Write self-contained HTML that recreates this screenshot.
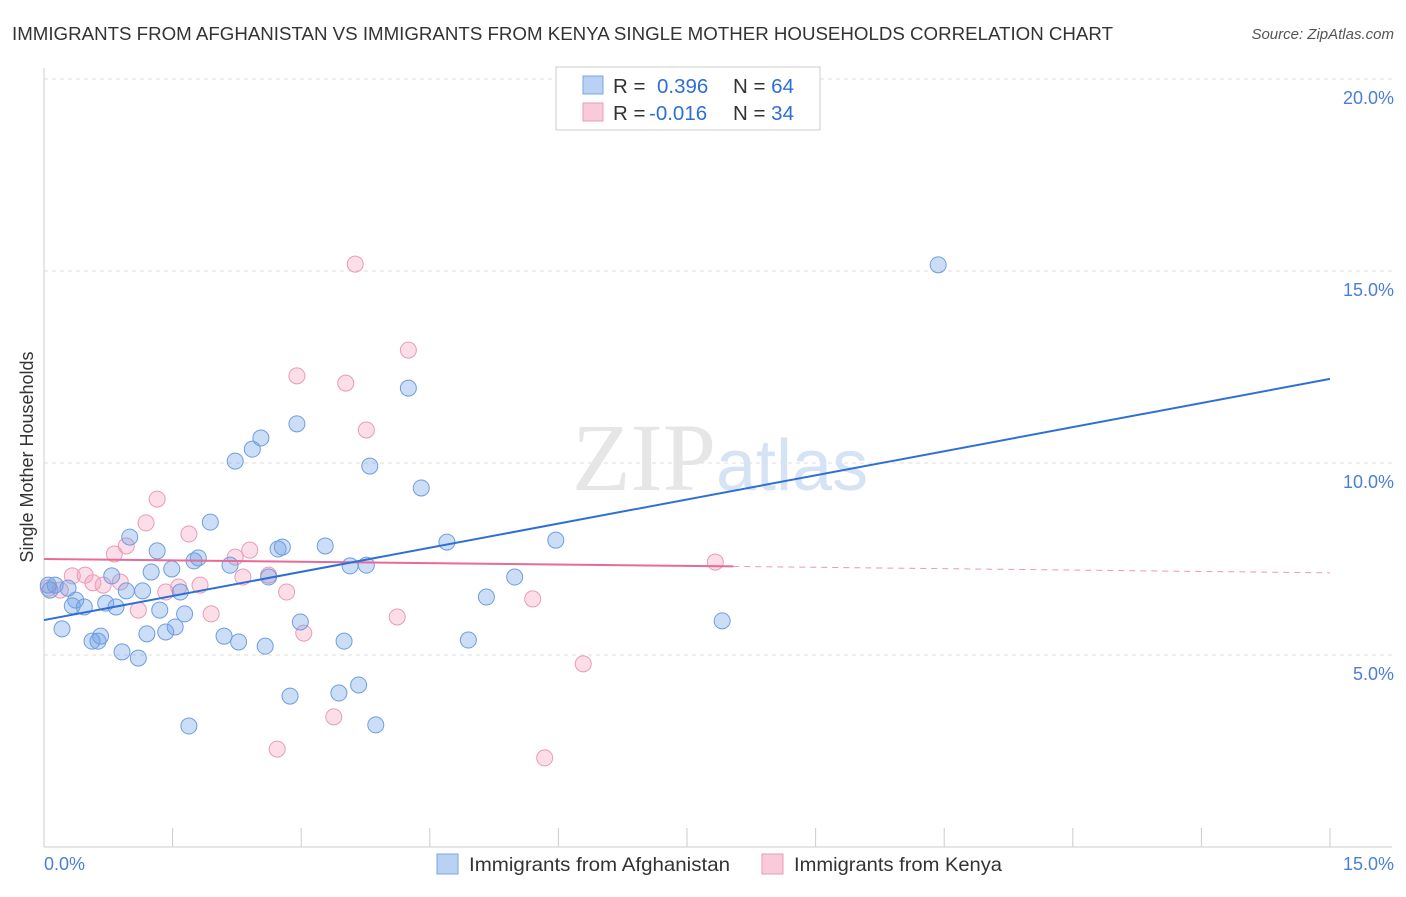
<!DOCTYPE html>
<html><head><meta charset="utf-8"><style>
body{margin:0;background:#fff;font-family:"Liberation Sans",sans-serif}
</style></head><body>
<svg width="1406" height="892" xmlns="http://www.w3.org/2000/svg" font-family="Liberation Sans, sans-serif">
<text x="12" y="40" font-size="18" fill="#333" textLength="1101" lengthAdjust="spacingAndGlyphs">IMMIGRANTS FROM AFGHANISTAN VS IMMIGRANTS FROM KENYA SINGLE MOTHER HOUSEHOLDS CORRELATION CHART</text>
<text x="1394" y="39" font-size="15" fill="#555" font-style="italic" text-anchor="end">Source: ZipAtlas.com</text>
<g id="grid"></g>
<text x="716" y="490" font-size="96" fill="#e6e6e6" text-anchor="end" font-family="Liberation Serif, serif">ZIP</text>
<text x="716" y="490" font-size="72" fill="#d5e3f5">atlas</text>
<line x1="44" y1="68" x2="44" y2="847" stroke="#ccc"/>
<line x1="44" y1="847" x2="1392" y2="847" stroke="#ccc"/>
<g id="ticks"></g>
<g id="marks"></g>
<text transform="translate(33,457) rotate(-90)" font-size="18" fill="#333" text-anchor="middle">Single Mother Households</text>
<text x="44" y="870" font-size="18" fill="#4a7fd8">0.0%</text>
<text x="1394" y="870" font-size="18" fill="#4a7fd8" text-anchor="end">15.0%</text>
<g>
<rect x="556" y="67" width="264" height="63" fill="#fff" stroke="#ccc"/>
<rect x="583" y="76" width="20" height="18" fill="#b9d1f3" stroke="#7aa5e4"/>
<rect x="583" y="103" width="20" height="18" fill="#f9cad9" stroke="#eb9bb5"/>
<text x="613" y="93" font-size="20.5" fill="#333">R = <tspan fill="#2e6fd6" x="657">0.396</tspan><tspan x="733" fill="#333">N = </tspan><tspan fill="#2e6fd6">64</tspan></text>
<text x="613" y="120" font-size="20.5" fill="#333">R = <tspan fill="#2e6fd6" x="649">-0.016</tspan><tspan x="733" fill="#333">N = </tspan><tspan fill="#2e6fd6">34</tspan></text>
</g>
<g>
<rect x="437" y="854" width="21" height="20" fill="#b9d1f3" stroke="#7aa5e4"/>
<text x="469" y="871" font-size="19.5" fill="#333" textLength="261" lengthAdjust="spacingAndGlyphs">Immigrants from Afghanistan</text>
<rect x="762" y="854" width="21" height="20" fill="#f9cad9" stroke="#eb9bb5"/>
<text x="794" y="871" font-size="19.5" fill="#333" textLength="208" lengthAdjust="spacingAndGlyphs">Immigrants from Kenya</text>
</g>
</svg>
<script>
const yTicks=[5,10,15,20];
const yTickLabels=["5.0%","10.0%","15.0%","20.0%"];
const xTicks=[0,1.5,3,4.5,6,7.5,9,10.5,12,13.5,15];
const blueX=[10.43,4.25,2.95,2.53,2.43,2.23,3.80,4.40,1.94,1.00,4.70,5.97,1.32,3.28,2.78,2.73,1.80,1.75,1.49,1.25,2.17,3.57,3.76,2.62,5.49,0.79,0.13,0.28,0.07,1.15,0.96,1.59,5.16,0.37,0.72,0.33,0.47,0.84,1.35,1.64,2.99,7.91,0.21,1.53,1.42,1.20,2.10,0.66,2.27,0.56,0.63,3.50,4.95,2.58,0.91,1.10,3.67,2.87,3.44,1.69,3.87,0.05];
const blueY=[15.16,11.95,11.02,10.65,10.36,10.05,9.92,9.35,8.46,8.07,7.94,7.99,7.71,7.84,7.81,7.76,7.53,7.45,7.24,7.16,7.34,7.32,7.34,7.03,7.03,7.06,6.82,6.74,6.69,6.67,6.67,6.64,6.51,6.43,6.35,6.28,6.25,6.25,6.17,6.07,5.86,5.89,5.68,5.73,5.60,5.55,5.49,5.49,5.34,5.36,5.36,5.36,5.39,5.23,5.08,4.92,4.22,3.93,4.01,3.15,3.18,6.82];
const pinkX=[3.63,4.25,2.95,3.52,3.76,1.32,1.19,1.69,0.96,2.40,0.82,2.23,7.83,0.33,0.48,2.62,2.32,0.89,0.57,0.69,1.82,1.57,1.42,2.83,0.19,5.70,1.10,1.95,4.12,3.03,6.29,3.38,2.72,5.84,0.05];
const pinkY=[15.18,12.94,12.27,12.08,10.86,9.06,8.44,8.15,7.84,7.73,7.63,7.55,7.42,7.06,7.08,7.08,7.03,6.90,6.88,6.82,6.82,6.77,6.64,6.64,6.69,6.46,6.17,6.07,5.99,5.57,4.77,3.39,2.55,2.32,6.74];
const blueTrend=[5.91,12.19];
const pinkTrend=[7.50,7.14];
const pinkSolidEnd=8.04;
const sx=v=>44+v*(1286/15), sy=v=>847-v*38.4;
const NS="http://www.w3.org/2000/svg";
function mk(t,a,p){const e=document.createElementNS(NS,t);for(const k in a)e.setAttribute(k,a[k]);document.getElementById(p).appendChild(e);return e;}
yTicks.forEach((v,i)=>{
 const l=mk('line',{x1:44,x2:1392,y1:sy(v),y2:sy(v),stroke:'#ddd','stroke-dasharray':'4,4'},'grid');
 
 
 const t=mk('text',{x:1394,y:sy(v)+25,'font-size':18,fill:'#4a7fd8','text-anchor':'end'},'ticks');
 t.textContent=yTickLabels[i];
 
 
});
xTicks.forEach(v=>{
 const l=mk('line',{x1:sx(v),x2:sx(v),y1:828,y2:847,stroke:'#ccc'},'ticks');
 
 
});
pinkX.forEach((x,i)=>{
 const c=mk('circle',{cx:sx(x),cy:sy(pinkY[i]),r:8,fill:'rgba(244,160,188,0.35)',stroke:'#eb9bb5','stroke-width':1},'marks');
 
 
});
blueX.forEach((x,i)=>{
 const c=mk('circle',{cx:sx(x),cy:sy(blueY[i]),r:8,fill:'rgba(110,160,230,0.35)',stroke:'#6f9de0','stroke-width':1},'marks');
 
 
});
const py=x=>pinkTrend[0]+(pinkTrend[1]-pinkTrend[0])*x/15;
let l1=mk('line',{x1:sx(0),y1:sy(py(0)),x2:sx(pinkSolidEnd),y2:sy(py(pinkSolidEnd)),stroke:'#e86a96','stroke-width':2},'marks');


let l2=mk('line',{x1:sx(pinkSolidEnd),y1:sy(py(pinkSolidEnd)),x2:sx(15),y2:sy(py(15)),stroke:'#e86a96','stroke-width':1,'stroke-dasharray':'6,5',opacity:0.7},'marks');


let l3=mk('line',{x1:sx(0),y1:sy(blueTrend[0]),x2:sx(15),y2:sy(blueTrend[1]),stroke:'#2e6fd6','stroke-width':2},'marks');


</script>
</body></html>
